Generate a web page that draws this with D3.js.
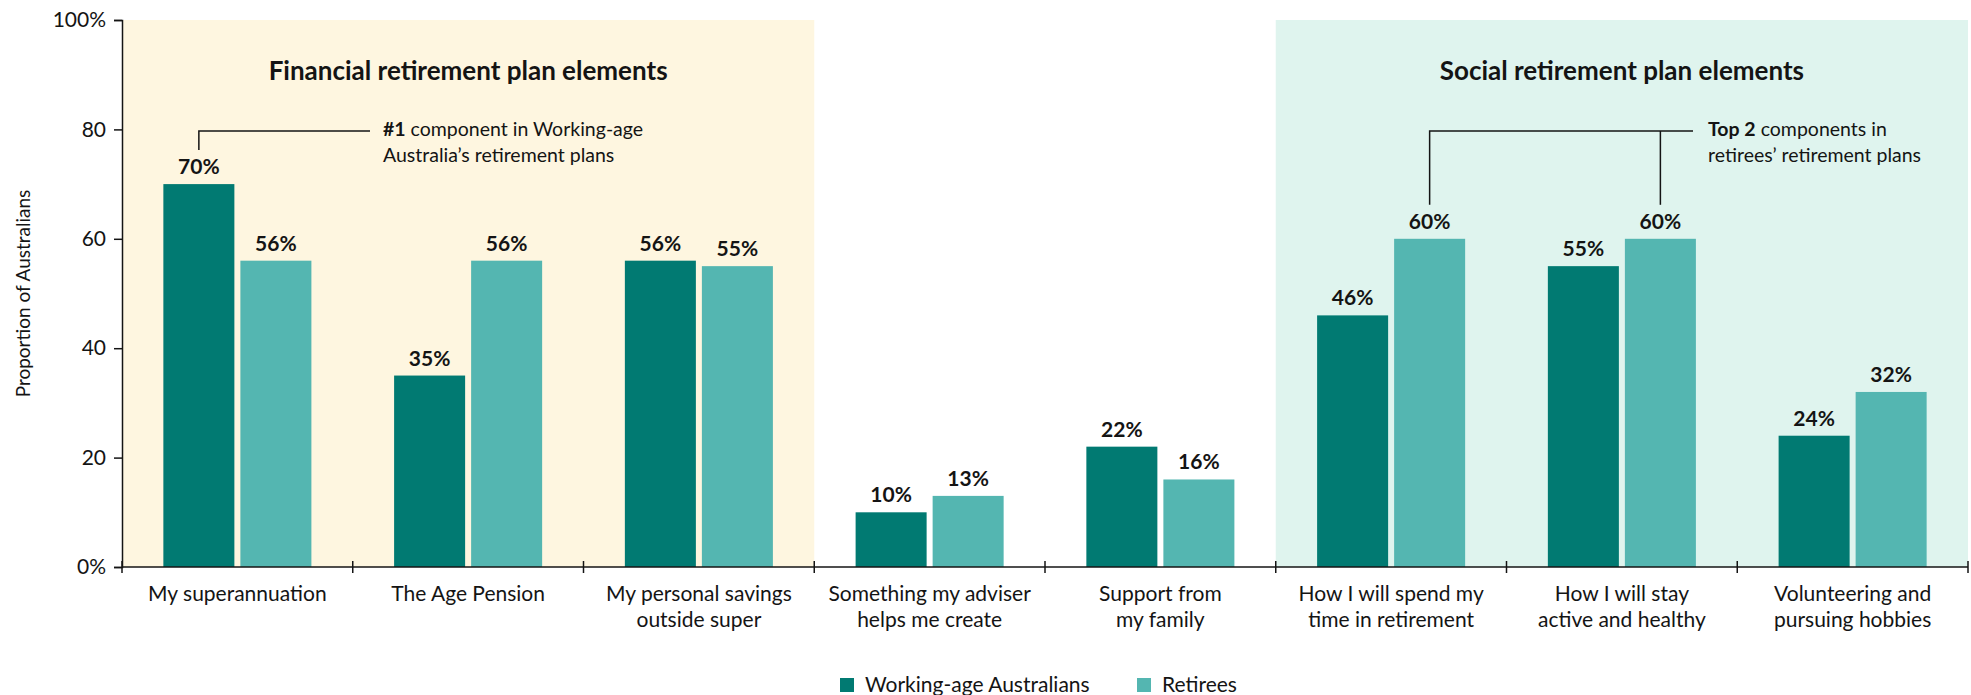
<!DOCTYPE html>
<html>
<head>
<meta charset="utf-8">
<script src="https://cdn.jsdelivr.net/npm/d3@7"></script>
<style>
  html, body { margin: 0; padding: 0; background: #fff; }
  svg { display: block; font-family: Lato, "Open Sans", sans-serif; }
</style>
</head>
<body>
<svg id="chart" width="1971" height="695"></svg>
<script>
// Retirement plan components, share of Australians (%)
const categories = [
  ["My superannuation"],
  ["The Age Pension"],
  ["My personal savings", "outside super"],
  ["Something my adviser", "helps me create"],
  ["Support from", "my family"],
  ["How I will spend my", "time in retirement"],
  ["How I will stay", "active and healthy"],
  ["Volunteering and", "pursuing hobbies"]
];
const seriesNames = ["Working-age Australians", "Retirees"];
const workingAge = [70, 35, 56, 10, 22, 46, 55, 24];
const retirees   = [56, 56, 55, 13, 16, 60, 60, 32];
const yTicks = [0, 20, 40, 60, 80, 100];

// Shaded category groups: [first index, last index, title]
const sections = [
  [0, 2, "Financial retirement plan elements"],
  [5, 7, "Social retirement plan elements"]
];

const colors = { dark: "#017A72", light: "#54B6B1", cream: "#FEF6E0", mint: "#DFF4EE", ink: "#141414" };

const svg = d3.select("#chart");
const plotL = 122, plotR = 1968, plotT = 20, plotB = 567;

const keys = categories.map((c, i) => i);
const x0 = d3.scaleBand().domain(keys).range([plotL, plotR]).padding(0);
const x1 = d3.scaleBand().domain([0, 1]).range([0, x0.bandwidth()])
  .paddingInner(0.078).paddingOuter(0.537);
const y = d3.scaleLinear().domain([0, 100]).range([plotB, plotT]);

// Section backgrounds
svg.append("g").selectAll("rect").data(sections).join("rect")
  .attr("x", d => x0(d[0]))
  .attr("y", y(100))
  .attr("width", d => x0(d[1]) + x0.bandwidth() - x0(d[0]))
  .attr("height", y(0) - y(100))
  .attr("fill", (d, i) => i === 0 ? colors.cream : colors.mint);

// Section titles
svg.append("g").selectAll("text").data(sections).join("text")
  .attr("x", d => (x0(d[0]) + x0(d[1]) + x0.bandwidth()) / 2)
  .attr("y", 80)
  .attr("text-anchor", "middle")
  .attr("font-size", 26)
  .attr("font-weight", 700)
  .attr("fill", colors.ink)
  .text(d => d[2]);

// Bars
const rows = keys.map(i => ({ i, vals: [workingAge[i], retirees[i]] }));
const groups = svg.append("g").selectAll("g").data(rows).join("g")
  .attr("transform", d => `translate(${x0(d.i)},0)`);

groups.selectAll("rect").data(d => d.vals.map((v, s) => ({ v, s }))).join("rect")
  .attr("x", d => x1(d.s))
  .attr("y", d => y(d.v))
  .attr("width", x1.bandwidth())
  .attr("height", d => y(0) - y(d.v))
  .attr("fill", d => d.s === 0 ? colors.dark : colors.light);

groups.selectAll("text").data(d => d.vals.map((v, s) => ({ v, s }))).join("text")
  .attr("x", d => x1(d.s) + x1.bandwidth() / 2)
  .attr("y", d => y(d.v) - 10)
  .attr("text-anchor", "middle")
  .attr("font-size", 21)
  .attr("font-weight", 700)
  .attr("fill", colors.ink)
  .text(d => d.v + "%");

// Y axis
const yAxis = d3.axisLeft(y).tickValues(yTicks).tickSize(8).tickPadding(8)
  .tickFormat(d => (d === 0 || d === 100) ? d + "%" : d);
const ga = svg.append("g").attr("transform", `translate(${plotL},0)`).call(yAxis);
ga.select(".domain").attr("stroke", colors.ink).attr("stroke-width", 1.5);
ga.selectAll(".tick line").attr("stroke", colors.ink).attr("stroke-width", 1.5);
ga.selectAll(".tick text").attr("font-size", 21).attr("fill", colors.ink)
  .attr("font-family", "Lato, sans-serif");

svg.append("text")
  .attr("transform", `translate(22,${(plotT + plotB) / 2}) rotate(-90)`)
  .attr("text-anchor", "middle")
  .attr("dominant-baseline", "central")
  .attr("font-size", 19)
  .attr("fill", colors.ink)
  .text("Proportion of Australians");

// X axis baseline with boundary ticks
svg.append("line")
  .attr("x1", plotL).attr("x2", plotR).attr("y1", y(0)).attr("y2", y(0))
  .attr("stroke", colors.ink).attr("stroke-width", 1.5);
const bounds = keys.map(i => x0(i)).concat([plotR]);
svg.append("g").selectAll("line").data(bounds).join("line")
  .attr("x1", d => d).attr("x2", d => d)
  .attr("y1", y(0) - 6).attr("y2", y(0) + 6)
  .attr("stroke", colors.ink).attr("stroke-width", 1.5);

// Category labels
const cl = svg.append("g").selectAll("text").data(rows).join("text")
  .attr("x", d => x0(d.i) + x0.bandwidth() / 2)
  .attr("y", 601)
  .attr("text-anchor", "middle")
  .attr("font-size", 21)
  .attr("fill", colors.ink);
cl.selectAll("tspan").data(d => categories[d.i]).join("tspan")
  .attr("x", function () { return d3.select(this.parentNode).attr("x"); })
  .attr("dy", (d, k) => k === 0 ? 0 : 26)
  .text(d => d);

// Annotations
const barCenter = (i, s) => x0(i) + x1(s) + x1.bandwidth() / 2;
const ann = svg.append("g").attr("fill", "none").attr("stroke", colors.ink).attr("stroke-width", 1.5);
const lineY = 131;
const annSize = 19.5;

// #1 component: working-age superannuation
const a1x = barCenter(0, 0);
ann.append("path").attr("d", `M${a1x},${y(workingAge[0]) - 34}V${lineY}H370`);
const t1 = svg.append("text").attr("x", 383).attr("y", 136).attr("font-size", annSize).attr("fill", colors.ink);
t1.append("tspan").attr("font-weight", 700).text("#1");
t1.append("tspan").text(" component in Working-age");
svg.append("text").attr("x", 383).attr("y", 162).attr("font-size", annSize).attr("fill", colors.ink)
  .text("Australia\u2019s retirement plans");

// Top 2 components: retirees' social items
const b1 = barCenter(5, 1), b2 = barCenter(6, 1);
ann.append("path").attr("d", `M${b1},${y(retirees[5]) - 34}V${lineY}H1693`);
ann.append("path").attr("d", `M${b2},${y(retirees[6]) - 34}V${lineY}`);
const t2 = svg.append("text").attr("x", 1708).attr("y", 136).attr("font-size", annSize).attr("fill", colors.ink);
t2.append("tspan").attr("font-weight", 700).text("Top 2");
t2.append("tspan").text(" components in");
svg.append("text").attr("x", 1708).attr("y", 162).attr("font-size", annSize).attr("fill", colors.ink)
  .text("retirees\u2019 retirement plans");

// Legend
const legend = svg.append("g").attr("transform", "translate(840,678)");
const legX = [0, 297];
const li = legend.selectAll("g").data(seriesNames).join("g")
  .attr("transform", (d, i) => `translate(${legX[i]},0)`);
li.append("rect").attr("width", 14).attr("height", 14)
  .attr("fill", (d, i) => i === 0 ? colors.dark : colors.light);
li.append("text").attr("x", 25).attr("y", 14).attr("font-size", 21).attr("fill", colors.ink)
  .text(d => d);
</script>
</body>
</html>
